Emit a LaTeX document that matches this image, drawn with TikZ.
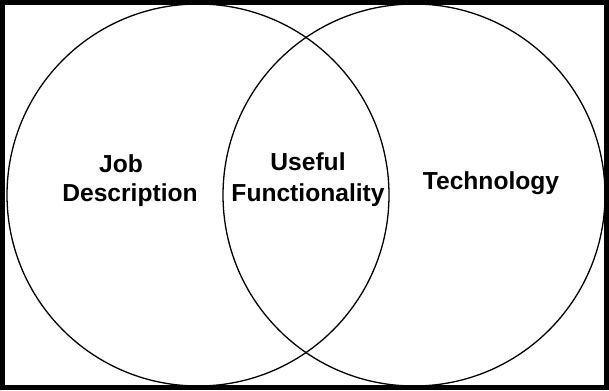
\documentclass[tikz,border=0pt]{standalone}
\usepackage{fontspec}
\setmainfont{Liberation Sans}
\begin{document}
\begin{tikzpicture}[x=1pt,y=-1pt,
    set/.style={shape=circle, draw, line width=1.3pt, minimum size=382pt, inner sep=0pt},
    every node/.style={align=center, font=\bfseries\fontsize{24.6}{31}\selectfont}]
    \useasboundingbox (0,0) rectangle (609,390);
    \draw[line width=5pt] (2.5,2.5) rectangle (606.5,387.5);

    \node (jobset) [set] at (198,195) {};
    \node (techset) [set] at (414,195) {};

    \node (job) at (121,164) {Job};
    \node (desc) at (130,195) {Description};
    \node (useful) at (308,180) {Useful\\Functionality};
    \node (tech) at (491,183) {Technology};
\end{tikzpicture}
\end{document}
